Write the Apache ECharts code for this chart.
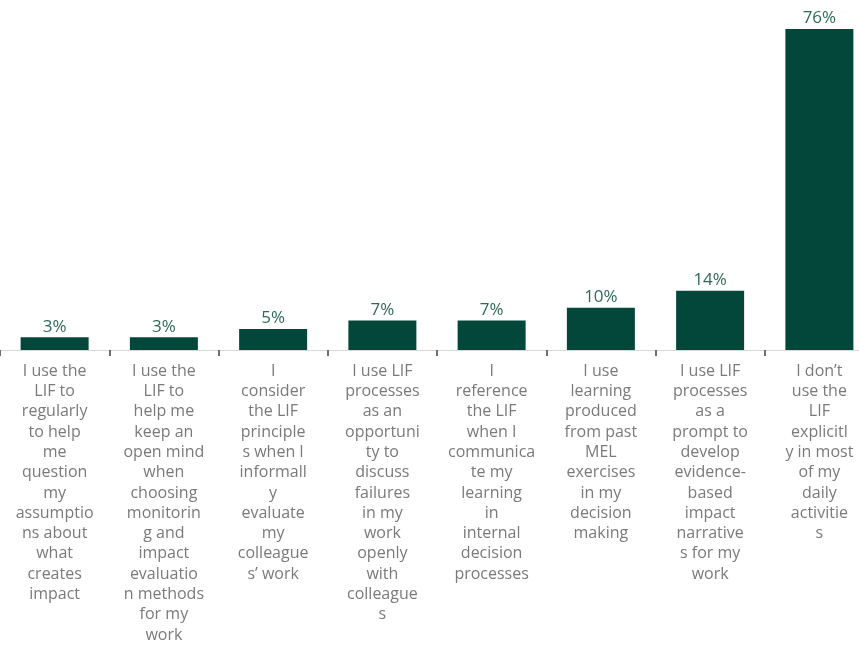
<!DOCTYPE html>
<html>
<head>
<meta charset="utf-8">
<script src="https://cdn.jsdelivr.net/npm/echarts@6/dist/echarts.min.js"></script>
<style>
	html, body { margin: 0; padding: 0; background: #fff; }
	#chart { width: 859px; height: 647px; }
</style>
</head>
<body>
<div id="chart"></div>
<script>
// categories, wrapped the way the source chart breaks them
const categories = [
	'I use the\nLIF to\nregularly\nto help\nme\nquestion\nmy\nassumptio\nns about\nwhat\ncreates\nimpact',
	'I use the\nLIF to\nhelp me\nkeep an\nopen mind\nwhen\nchoosing\nmonitorin\ng and\nimpact\nevaluatio\nn methods\nfor my\nwork',
	'I\nconsider\nthe LIF\nprinciple\ns when I\ninformall\ny\nevaluate\nmy\ncolleague\ns\u2019 work',
	'I use LIF\nprocesses\nas an\nopportuni\nty to\ndiscuss\nfailures\nin my\nwork\nopenly\nwith\ncolleague\ns',
	'I\nreference\nthe LIF\nwhen I\ncommunica\nte my\nlearning\nin\ninternal\ndecision\nprocesses',
	'I use\nlearning\nproduced\nfrom past\nMEL\nexercises\nin my\ndecision\nmaking',
	'I use LIF\nprocesses\nas a\nprompt to\ndevelop\nevidence-\nbased\nimpact\nnarrative\ns for my\nwork',
	'I don\u2019t\nuse the\nLIF\nexplicitl\ny in most\nof my\ndaily\nactivitie\ns'
]
const shares = [3, 3, 5, 7, 7, 10, 14, 76]

let myChart = echarts.init(document.getElementById('chart'))
let option = {
	backgroundColor: '#ffffff',
	animation: false,
	grid: {
		left: 0,
		top: 12,
		right: -15,
		bottom: 297,
		outerBoundsMode: 'none'
	},
	xAxis: {
		type: 'category',
		data: categories,
		axisLine: {
			show: true,
			lineStyle: { color: '#d9d9d9', width: 1 }
		},
		axisTick: {
			show: true,
			length: 6,
			lineStyle: { color: '#404040', width: 1.5 }
		},
		axisLabel: {
			interval: 0,
			margin: 11,
			color: '#7a7a7a',
			fontFamily: 'Open Sans',
			fontSize: 16,
			lineHeight: 20.3
		}
	},
	yAxis: {
		type: 'value',
		min: 0,
		max: 80,
		show: false,
		splitLine: { show: false }
	},
	series: [
		{
			type: 'bar',
			data: shares,
			barWidth: 68,
			itemStyle: { color: '#03473a' },
			label: {
				show: true,
				position: 'top',
				distance: 2,
				color: '#2d6a57',
				fontFamily: 'Open Sans',
				fontSize: 17,
				fontWeight: 500,
				formatter: (p) => p.value + '%'
			}
		}
	]
}
myChart.setOption(option)
</script>
</body>
</html>
